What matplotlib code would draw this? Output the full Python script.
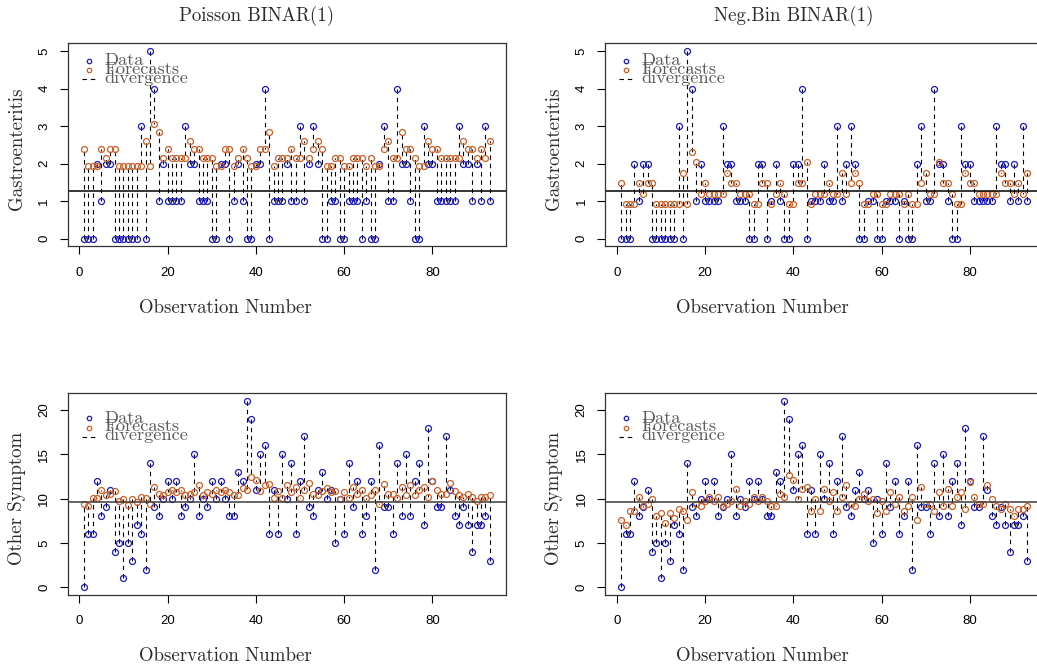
import numpy as np
import matplotlib
matplotlib.use("Agg")
import matplotlib.pyplot as plt

# weekly counts
gastro = [0, 0, 0, 2, 1, 2, 2, 0, 0, 0,
          0, 0, 0, 3, 0, 5, 4, 1, 2, 1,
          1, 1, 1, 3, 2, 2, 1, 1, 1, 0,
          0, 2, 2, 0, 1, 2, 1, 0, 0, 2,
          2, 4, 0, 1, 1, 1, 2, 1, 1, 3,
          1, 2, 3, 2, 0, 0, 1, 1, 0, 0,
          1, 1, 1, 0, 1, 0, 0, 2, 3, 1,
          1, 4, 2, 2, 1, 0, 0, 3, 2, 2,
          1, 1, 1, 1, 1, 3, 2, 2, 1, 2,
          1, 3, 1]

other = [0, 6, 6, 12, 8, 9, 11, 4, 5, 1,
         5, 3, 7, 6, 2, 14, 9, 8, 10, 12,
         10, 12, 8, 9, 10, 15, 8, 10, 9, 12,
         10, 12, 10, 8, 8, 13, 12, 21, 19, 11,
         15, 16, 6, 11, 6, 15, 10, 14, 6, 12,
         17, 9, 8, 11, 13, 10, 11, 5, 10, 6,
         14, 9, 12, 6, 8, 12, 2, 16, 9, 9,
         6, 14, 8, 15, 8, 12, 14, 7, 18, 12,
         9, 9, 17, 11, 8, 7, 9, 7, 4, 7,
         7, 8, 3]

# one-step forecasts
fc_pois_gastro = [2.38, 1.94, 1.94, 1.94, 2.38, 2.16, 2.38, 2.38, 1.94, 1.94,
                  1.94, 1.94, 1.94, 1.94, 2.61, 1.94, 3.05, 2.83, 2.16, 2.38,
                  2.16, 2.16, 2.16, 2.16, 2.61, 2.38, 2.38, 2.16, 2.16, 2.16,
                  1.94, 1.94, 2.38, 2.38, 1.94, 2.16, 2.38, 2.16, 1.94, 1.94,
                  2.38, 2.38, 2.83, 1.94, 2.16, 2.16, 2.16, 2.38, 2.16, 2.16,
                  2.61, 2.16, 2.38, 2.61, 2.38, 1.94, 1.94, 2.16, 2.16, 1.94,
                  1.94, 2.16, 2.16, 2.16, 1.94, 2.16, 1.94, 1.94, 2.38, 2.61,
                  2.16, 2.16, 2.83, 2.38, 2.38, 2.16, 1.94, 1.94, 2.61, 2.38,
                  2.38, 2.16, 2.16, 2.16, 2.16, 2.16, 2.61, 2.38, 2.38, 2.16,
                  2.38, 2.16, 2.61]

fc_nb_gastro = [1.48, 0.93, 0.93, 0.93, 1.48, 1.20, 1.48, 1.48, 0.93, 0.93,
                0.93, 0.93, 0.93, 0.93, 1.75, 0.93, 2.30, 2.03, 1.20, 1.48,
                1.20, 1.20, 1.20, 1.20, 1.75, 1.48, 1.48, 1.20, 1.20, 1.20,
                0.93, 0.93, 1.48, 1.48, 0.93, 1.20, 1.48, 1.20, 0.93, 0.93,
                1.48, 1.48, 2.03, 0.93, 1.20, 1.20, 1.20, 1.48, 1.20, 1.20,
                1.75, 1.20, 1.48, 1.75, 1.48, 0.93, 0.93, 1.20, 1.20, 0.93,
                0.93, 1.20, 1.20, 1.20, 0.93, 1.20, 0.93, 0.93, 1.48, 1.75,
                1.20, 1.20, 2.03, 1.48, 1.48, 1.20, 0.93, 0.93, 1.75, 1.48,
                1.48, 1.20, 1.20, 1.20, 1.20, 1.20, 1.75, 1.48, 1.48, 1.20,
                1.48, 1.20, 1.75]

fc_pois_other = [9.42, 9.12, 10.06, 10.06, 11.00, 10.38, 10.53, 10.85, 9.75, 9.91,
                 9.28, 9.91, 9.59, 10.22, 10.06, 9.43, 11.32, 10.53, 10.38, 10.69,
                 11.00, 10.69, 11.00, 10.38, 10.53, 10.69, 11.48, 10.38, 10.69, 10.53,
                 11.00, 10.69, 11.00, 10.69, 10.38, 10.38, 11.16, 11.00, 12.42, 12.10,
                 10.85, 11.48, 11.63, 10.06, 10.85, 10.06, 11.48, 10.69, 11.32, 10.06,
                 11.00, 11.79, 10.53, 10.38, 10.85, 11.16, 10.69, 10.85, 9.91, 10.69,
                 10.06, 11.32, 10.53, 11.00, 10.06, 10.38, 11.00, 9.43, 11.63, 10.53,
                 10.53, 10.06, 11.32, 10.38, 11.48, 10.38, 11.00, 11.32, 10.22, 11.95,
                 11.00, 10.53, 10.53, 11.79, 10.85, 10.38, 10.22, 10.53, 10.22, 9.75,
                 10.22, 10.22, 10.38]

fc_nb_other = [7.62, 7.00, 8.61, 8.61, 10.23, 9.15, 9.42, 9.96, 8.08, 8.35,
               7.27, 8.35, 7.81, 8.88, 8.61, 7.54, 10.77, 9.42, 9.15, 9.69,
               10.23, 9.69, 10.23, 9.15, 9.42, 9.69, 11.04, 9.15, 9.69, 9.42,
               10.23, 9.69, 10.23, 9.69, 9.15, 9.15, 10.50, 10.23, 12.65, 12.11,
               9.96, 11.04, 11.30, 8.61, 9.96, 8.61, 11.04, 9.69, 10.77, 8.61,
               10.23, 11.57, 9.42, 9.15, 9.96, 10.50, 9.69, 9.96, 8.35, 9.69,
               8.61, 10.77, 9.42, 10.23, 8.61, 9.15, 10.23, 7.54, 11.30, 9.42,
               9.42, 8.61, 10.77, 9.15, 11.04, 9.15, 10.23, 10.77, 8.88, 11.84,
               10.23, 9.42, 9.42, 11.57, 9.96, 9.15, 8.88, 9.42, 8.88, 8.08,
               8.88, 8.88, 9.15]

titles = ["Poisson BINAR(1)", "Neg.Bin BINAR(1)"]
ylabels = ["Gastroenteritis", "Other Symptom"]
legend_labels = ["Data", "Forecasts", "divergence"]
xticks = [0, 20, 40, 60, 80]
yticks_gastro = [0, 1, 2, 3, 4, 5]
yticks_other = [0, 5, 10, 15, 20]

DATA_COL = "#1c1cb8"
FC_COL = "#c8602a"
SERIF = "cmr10"
TXT_COL = "#2b2b2b"
DASH = (0, (4, 3.5))

plt.rcParams["font.family"] = ["Liberation Sans", "DejaVu Sans"]


def draw_panel(ax, y, fc, yticks, ylabel, title, leg_top, mean_col):
    x = np.arange(1, len(y) + 1)
    ax.vlines(x, y, fc, colors="black", linestyles=[DASH], linewidth=0.8)
    ax.plot(x, y, "o", mfc="none", mec=DATA_COL, ms=4.3, mew=0.9)
    ax.plot(x, fc, "o", mfc="none", mec=FC_COL, ms=4.3, mew=0.9)
    ax.axhline(np.mean(y), color=mean_col, lw=1.1)
    ax.margins(0.04)

    ax.set_xticks(xticks)
    ax.set_yticks(yticks)
    ax.tick_params(direction="out", length=5.8, width=0.8, labelsize=9.5)
    ax.tick_params(axis="x", pad=9.0)
    ax.tick_params(axis="y", pad=6.5, labelrotation=90)
    for lab in ax.get_yticklabels():
        lab.set_va("center")
    for sp in ax.spines.values():
        sp.set_color("#333333")
        sp.set_linewidth(0.9)

    ax.text(0.359, -0.305, "Observation Number", transform=ax.transAxes,
            family=SERIF, fontsize=13.6, color=TXT_COL, ha="center", va="center")
    ax.text(-0.116, 0.48, ylabel, transform=ax.transAxes, family=SERIF,
            fontsize=13.6, color=TXT_COL, rotation=90, ha="center", va="center")
    if title:
        ax.text(0.431, 1.136, title, transform=ax.transAxes, family=SERIF,
                fontsize=13.6, color=TXT_COL, ha="center", va="center")

    # legend drawn by hand so the rows sit tight like the original
    t = ax.transAxes
    mk = leg_top
    ax.plot([0.049], [mk], "o", mfc="none", mec=DATA_COL, ms=3.2, mew=0.9,
            transform=t, clip_on=False)
    ax.plot([0.049], [mk - 0.046], "o", mfc="none", mec=FC_COL, ms=3.2,
            mew=0.9, transform=t, clip_on=False)
    ax.plot([0.032, 0.065], [mk - 0.092] * 2, color="black", lw=0.8,
            linestyle=DASH, transform=t, clip_on=False)
    for i, lab in enumerate(legend_labels):
        ax.text(0.083, mk - 0.021 - 0.044 * i, lab, transform=t, family=SERIF,
                fontsize=13.2, color="#5a5a5a", va="baseline")


fig = plt.figure(figsize=(10.37, 6.69), dpi=100)
W = 0.4229
ax1 = fig.add_axes([0.0651, 0.6320, W, 0.3030])
ax2 = fig.add_axes([0.5833, 0.6320, W, 0.3030])
ax3 = fig.add_axes([0.0651, 0.1109, W, 0.3010])
ax4 = fig.add_axes([0.5833, 0.1109, W, 0.3010])

draw_panel(ax1, gastro, fc_pois_gastro, yticks_gastro, ylabels[0], titles[0], 0.915, "black")
draw_panel(ax2, gastro, fc_nb_gastro, yticks_gastro, ylabels[0], titles[1], 0.915, "black")
draw_panel(ax3, other, fc_pois_other, yticks_other, ylabels[1], None, 0.876, "#3c3c3c")
draw_panel(ax4, other, fc_nb_other, yticks_other, ylabels[1], None, 0.876, "#3c3c3c")

fig.savefig("out.png", dpi=100)
